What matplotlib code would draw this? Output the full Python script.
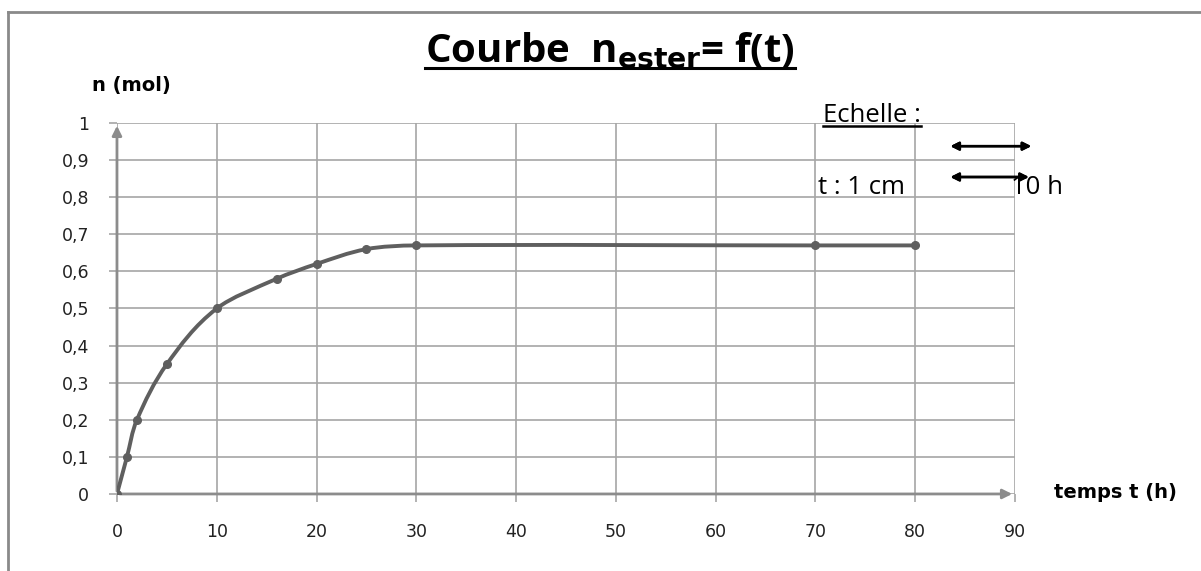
import matplotlib.pyplot as plt
from matplotlib.path import Path
from matplotlib.patches import PathPatch
from matplotlib.lines import Line2D
from matplotlib.ticker import FuncFormatter

# data
t_hours = [0, 1, 2, 5, 10, 16, 20, 25, 30, 70, 80]
n_ester = [0, 0.1, 0.2, 0.35, 0.5, 0.58, 0.62, 0.66, 0.67, 0.67, 0.67]
x_ticks = [0, 10, 20, 30, 40, 50, 60, 70, 80, 90]
y_ticks = [0, 0.1, 0.2, 0.3, 0.4, 0.5, 0.6, 0.7, 0.8, 0.9, 1]

GRID = "#a6a6a6"
LINE = "#5f5f5f"

fig = plt.figure(figsize=(12.01, 5.71), dpi=100)
ax = fig.add_axes([0.0974, 0.1349, 0.7477, 0.6497])
ax.set_xlim(0, 90)
ax.set_ylim(0, 1)
ax.set_xticks(x_ticks)
ax.set_yticks(y_ticks)
ax.grid(True, color=GRID, linewidth=1.2)
ax.set_axisbelow(True)
for s in ax.spines.values():
    s.set_visible(False)
ax.tick_params(length=6, color=GRID, width=1.2, labelsize=12.5, labelcolor="#222222")
ax.tick_params(axis="x", pad=15)
ax.tick_params(axis="y", pad=14)
for lab in ax.get_xticklabels() + ax.get_yticklabels():
    lab.set_family("DejaVu Sans")
ax.yaxis.set_major_formatter(FuncFormatter(lambda v, p: f"{v:g}".replace(".", ",")))

# axes with arrow heads
for end in [(90, 0), (0, 1)]:
    ax.annotate("", xy=end, xytext=(0, 0),
                arrowprops=dict(arrowstyle="-|>", color="#8c8c8c", lw=2, mutation_scale=14),
                annotation_clip=False)

# smoothed curve through the points (cubic Bezier, tangent length limited to each segment)
sx, sy = 1 / 90, 1.0
pts = list(zip(t_hours, n_ester))
verts = [pts[0]]
codes = [Path.MOVETO]


def tangent(a, b):
    dx, dy = (b[0] - a[0]) * sx, (b[1] - a[1]) * sy
    n = (dx * dx + dy * dy) ** 0.5 or 1
    return dx / n, dy / n


for i in range(len(pts) - 1):
    p0 = pts[i - 1] if i > 0 else pts[i]
    p1, p2 = pts[i], pts[i + 1]
    p3 = pts[i + 2] if i + 2 < len(pts) else pts[i + 1]
    seg = (((p2[0] - p1[0]) * sx) ** 2 + ((p2[1] - p1[1]) * sy) ** 2) ** 0.5 / 3
    d1 = tangent(p0, p2)
    d2 = tangent(p1, p3)
    c1 = (p1[0] + d1[0] * seg / sx, p1[1] + d1[1] * seg / sy)
    c2 = (p2[0] - d2[0] * seg / sx, p2[1] - d2[1] * seg / sy)
    verts += [c1, c2, p2]
    codes += [Path.CURVE4] * 3
ax.add_patch(PathPatch(Path(verts, codes), facecolor="none", edgecolor=LINE, lw=2.8,
                       capstyle="round", zorder=3))
ax.plot(t_hours, n_ester, linestyle="none", marker="o", markersize=5.5, color=LINE, zorder=4)

# outer frame (top and left borders)
fig.add_artist(Line2D([0.007, 1.0], [0.979, 0.979], color="#8a8a8a", lw=2))
fig.add_artist(Line2D([0.007, 0.007], [0.0, 0.979], color="#8a8a8a", lw=2))


def underlined(x, y, text, lw=1.8, **kw):
    t = fig.text(x, y, text, **kw)
    fig.canvas.draw()
    bb = t.get_window_extent().transformed(fig.transFigure.inverted())
    fig.add_artist(Line2D([bb.x0, bb.x1], [bb.y0 + 0.004, bb.y0 + 0.004], color="black", lw=lw))
    return t


# title
underlined(0.508, 0.912, r"Courbe  n$_{\mathbf{ester}}$= f(t)", lw=2.2, ha="center", va="center",
           fontsize=29, fontweight="bold", family="Open Sans")

fig.text(0.077, 0.851, "n (mol)", fontsize=14, fontweight="bold", va="center", family="DejaVu Sans")
fig.text(0.878, 0.138, "temps t (h)", fontsize=14, fontweight="bold", va="center", family="DejaVu Sans")

# scale note
underlined(0.685, 0.797, "Echelle :", fontsize=18.5, va="center", family="Open Sans")
fig.text(0.681, 0.672, "t : 1 cm", fontsize=18.5, va="center", family="Open Sans")
fig.text(0.842, 0.672, "10 h", fontsize=18.5, va="center", family="Open Sans")
fig.add_artist(plt.annotate("", xy=(0.861, 0.744), xytext=(0.789, 0.744), xycoords="figure fraction",
                            arrowprops=dict(arrowstyle="<|-|>", color="black", lw=1.8, mutation_scale=12)))
fig.add_artist(plt.annotate("", xy=(0.859, 0.690), xytext=(0.789, 0.690), xycoords="figure fraction",
                            arrowprops=dict(arrowstyle="<|-|>", color="black", lw=1.8, mutation_scale=12)))

fig.savefig("out.png", dpi=100, facecolor="white")
